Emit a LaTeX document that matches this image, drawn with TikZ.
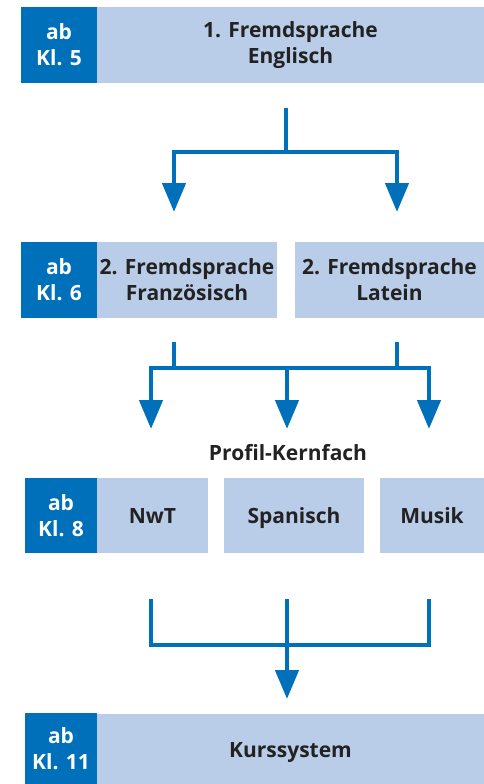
\documentclass[tikz,border=0pt]{standalone}
\usepackage{fontspec}
\setmainfont{Open Sans}
\usepackage{xcolor}
\usepackage{tikz}
\usetikzlibrary{arrows.meta}
\usetikzlibrary{calc}
\usetikzlibrary{positioning}

\definecolor{klblue}{HTML}{0070BA}
\definecolor{kllight}{HTML}{B9CDE8}
\definecolor{kltext}{HTML}{222222}

\begin{document}
\begin{tikzpicture}[x=1pt, y=-1pt,
		class_node/.style={fill=klblue,text=white,inner sep=0pt,align=center,font=\bfseries\fontsize{21}{26}\selectfont},
		subject_node/.style={fill=kllight,text=kltext,inner sep=0pt,align=center,font=\bfseries\fontsize{21}{26}\selectfont},
		single_node/.style={subject_node,text height=15pt,text depth=0pt},
		flow_line/.style={draw=klblue,line width=4.5pt},
		flow_arrow/.style={flow_line,-{Triangle[width=23pt,length=29pt]}}]
				
				\useasboundingbox (0,0) rectangle (484,784);
				
				% Kl. 5
				\node[class_node, minimum width=76pt, minimum height=76pt] (1) at (59, 45) {ab\\Kl. 5};
				\node[subject_node, minimum width=387pt, minimum height=76pt] (2) at (290.5, 45) {1. Fremdsprache\\Englisch};
				
				% Kl. 6
				\node[class_node, minimum width=76pt, minimum height=76pt] (3) at (59, 280) {ab\\Kl. 6};
				\node[subject_node, minimum width=180pt, minimum height=76pt] (4) at (187, 280) {2. Fremdsprache\\Franz\"osisch};
				\node[subject_node, minimum width=189pt, minimum height=76pt] (5) at (389.5, 280) {2. Fremdsprache\\Latein};
				
				% Kl. 8
				\node[text=kltext, font=\bfseries\fontsize{21}{26}\selectfont] (6) at (288, 453) {Profil-Kernfach};
				\node[class_node, minimum width=72pt, minimum height=75pt] (7) at (61, 515.5) {ab\\Kl. 8};
				\node[single_node, minimum width=111pt, minimum height=75pt] (8) at (152.5, 515.5) {NwT};
				\node[single_node, minimum width=140pt, minimum height=75pt] (9) at (294, 515.5) {Spanisch};
				\node[single_node, minimum width=104pt, minimum height=75pt] (10) at (432, 515.5) {Musik};
				
				% Kl. 11
				\node[class_node, minimum width=72pt, minimum height=71pt] (11) at (61, 748.5) {ab\\Kl. 11};
				\node[single_node, minimum width=387pt, minimum height=71pt] (12) at (290.5, 749.5) {Kurssystem};
				
				% Pfeile
				\coordinate (s1) at (286, 108);
				\coordinate (j1) at (286, 152);
				\coordinate (t1) at (174, 212);
				\coordinate (t2) at (397, 212);
				\draw[flow_line] (s1) -- (j1);
				\draw[flow_arrow] (j1) -| (t1);
				\draw[flow_arrow] (j1) -| (t2);
				
				\coordinate (s2) at (174, 342);
				\coordinate (j2) at (174, 368);
				\coordinate (s3) at (397, 342);
				\coordinate (j3) at (397, 368);
				\coordinate (m2) at (287, 368);
				\coordinate (t3) at (151, 429);
				\coordinate (t4) at (287, 429);
				\coordinate (t5) at (429, 429);
				\draw[flow_line] (j2) -- (j3);
				\draw[flow_arrow] (s2) -- (j2) -| (t3);
				\draw[flow_arrow] (s3) -- (j3) -| (t5);
				\draw[flow_arrow] (m2) -- (t4);
				
				\coordinate (u1) at (151, 599);
				\coordinate (u2) at (287, 599);
				\coordinate (u3) at (429, 599);
				\coordinate (v3) at (429, 645);
				\coordinate (t6) at (287, 699);
				\draw[flow_line] (u1) |- (v3) -- (u3);
				\draw[flow_arrow] (u2) -- (t6);
			\end{tikzpicture}
\end{document}
